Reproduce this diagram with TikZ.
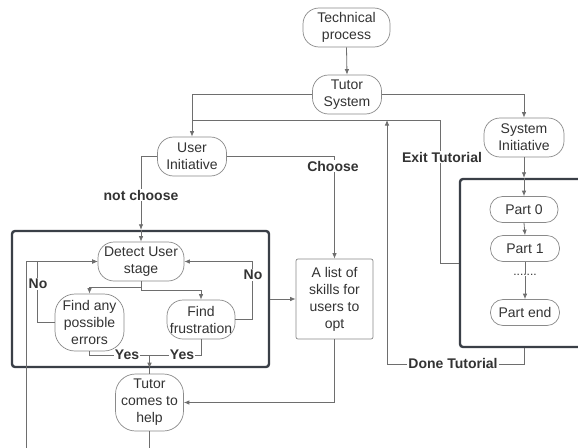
\documentclass[tikz,border=0pt]{standalone}
\usepackage{fontspec}
\setmainfont{Liberation Sans}
\usetikzlibrary{arrows.meta}
\definecolor{txtc}{HTML}{333333}
\definecolor{nodec}{HTML}{8A8A8A}
\definecolor{linec}{HTML}{6E6E6E}
\definecolor{grpc}{HTML}{3A3F47}
\begin{document}
\begin{tikzpicture}[x=1pt,y=-1pt,
  font=\fontsize{14}{17}\selectfont,
  pill/.style={draw=nodec, line width=0.7pt, rounded corners=16pt, align=center, text=txtc, inner sep=0pt},
  part/.style={pill, rounded corners=12.5pt, minimum height=26pt},
  listbox/.style={draw=nodec, line width=0.7pt, rounded corners=2pt, align=center, text=txtc, inner sep=0pt, minimum width=77pt, minimum height=80pt},
  grp/.style={draw=grpc, line width=2.4pt, rounded corners=3pt, inner sep=0pt},
  conn/.style={draw=linec, line width=0.8pt},
  arr/.style={conn, -{Latex[length=5.5pt,width=4.5pt]}},
  lbl/.style={fill=white, font=\fontsize{14}{17}\selectfont\bfseries, text=txtc, inner sep=1pt}
]
\useasboundingbox (0,0) rectangle (578,447);
\clip (0,0) rectangle (578,447);
\fill[white] (0,0) rectangle (578,447);

% group boxes
\node[grp, minimum width=257pt, minimum height=136pt] (lb) at (140.5,299) {};
\node[grp, minimum width=140pt, minimum height=168pt] (rb) at (530,263) {};

% nodes
\node[pill, minimum width=87pt, minimum height=39pt] (tp) at (346.5,27.5) {Technical\\process};
\node[pill, minimum width=69pt, minimum height=39pt] (ts) at (347,94.5) {Tutor\\System};
\node[pill, minimum width=69pt, minimum height=39pt] (ui) at (192,156.5) {User\\Initiative};
\node[pill, minimum width=80pt, minimum height=39pt] (si) at (524,137.5) {System\\Initiative};
\node[pill, minimum width=86pt, minimum height=39pt] (du) at (141,261.5) {Detect User\\stage};
\node[pill, rounded corners=20pt, minimum width=69pt, minimum height=57pt] (fe) at (89.5,322.5) {Find any\\possible\\errors};
\node[pill, minimum width=68pt, minimum height=39pt] (ff) at (201,319.5) {Find\\frustration};
\node[pill, rounded corners=20pt, minimum width=68pt, minimum height=57pt] (tc) at (149.5,402.5) {Tutor\\comes to\\help};
\node[listbox] (ls) at (334.5,299) {A list of\\skills for\\users to\\opt};
\node[part, minimum width=68pt] (p0) at (524,209.5) {Part 0};
\node[part, minimum width=69pt] (p1) at (525,248.5) {Part 1};
\node[part, minimum width=69pt] (pe) at (525,312.5) {Part end};
\node[text=txtc, font=\fontsize{12}{12}\selectfont, inner sep=0.5pt] (dots) at (525,275) {.......};

% coordinates
\coordinate (jx) at (192,120);
\coordinate (m) at (149.5,355);
\coordinate (lowL) at (26,470);

% connectors
\draw[arr] (tp.south) -- (ts.north);
\draw[arr] (ts.west) -| (ui.north);
\draw[arr] (ts.east) -| (si.north);
\draw[conn] (rb.west) -- ++(-18,0) |- (jx);
\draw[arr] (si |- rb.south) -- ++(0,16) -| (387,120);
\draw[arr] (si.south) -- (si |- rb.north);
\draw[arr] (si |- rb.north) -- (p0.north);
\draw[arr] (p0.south) -- (p1.north);
\draw[conn] (p1.south) -- (dots.north);
\draw[arr] (dots.south) -- (pe.north);
\draw[arr] (ui.east) -| (ls.north);
\draw[arr] (ui.west) -| (du.north |- lb.north);
\draw[arr] (du.north |- lb.north) -- (du.north);
\draw[arr] (du.south) -- ++(0,6) -| (fe.north);
\draw[arr] (du.south) -- ++(0,9) -| (ff.north);
\draw[arr] (fe.west) -- ++(-17,0) |- (du.west);
\draw[arr] (ff.east) -- ++(17,0) |- (du.east);
\draw[conn] (fe.south) |- (m);
\draw[conn] (ff.south) |- (m);
\draw[arr] (m) -- (m |- lb.south);
\draw[conn] (m |- lb.south) -- (tc.north);
\draw[arr] (lb.east) -- (ls.west);
\draw[arr] (ls.south) |- (tc.east);
\draw[arr] (tc.south) |- (lowL) |- (du.west);

% labels
\node[lbl] (lexit) at (442,157) {Exit Tutorial};
\node[lbl] (ldone) at (453,363) {Done Tutorial};
\node[lbl] (lchoose) at (333,166) {Choose};
\node[lbl] (lnot) at (141,195) {not choose};
\node[lbl] (lno1) at (38,284) {No};
\node[lbl] (lno2) at (253,275) {No};
\node[lbl] (lyes1) at (127,355) {Yes};
\node[lbl] (lyes2) at (182,355) {Yes};
\end{tikzpicture}
\end{document}
